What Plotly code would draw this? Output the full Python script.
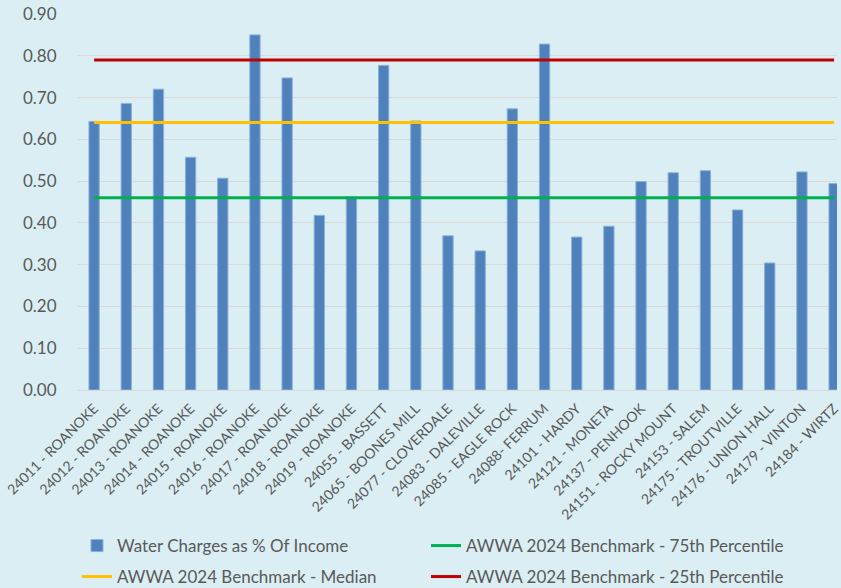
import plotly.graph_objects as go

categories = [
    "24011 - ROANOKE", "24012 - ROANOKE", "24013 - ROANOKE", "24014 - ROANOKE",
    "24015 - ROANOKE", "24016 - ROANOKE", "24017 - ROANOKE", "24018 - ROANOKE",
    "24019 - ROANOKE", "24055 - BASSETT", "24065 - BOONES MILL", "24077 - CLOVERDALE",
    "24083 - DALEVILLE", "24085 - EAGLE ROCK", "24088- FERRUM", "24101 - HARDY",
    "24121 - MONETA", "24137 - PENHOOK", "24151 - ROCKY MOUNT", "24153 - SALEM",
    "24175 - TROUTVILLE", "24176 - UNION HALL", "24179 - VINTON", "24184 - WIRTZ",
]
water_pct = [
    0.643, 0.686, 0.720, 0.557, 0.507, 0.850, 0.747, 0.418,
    0.462, 0.777, 0.644, 0.369, 0.333, 0.673, 0.828, 0.366,
    0.392, 0.499, 0.520, 0.525, 0.431, 0.304, 0.522, 0.494,
]
bench_75th = 0.46
bench_median = 0.64
bench_25th = 0.79

y_ticks = [0.0, 0.1, 0.2, 0.3, 0.4, 0.5, 0.6, 0.7, 0.8, 0.9]
y_tick_labels = ["0.00", "0.10", "0.20", "0.30", "0.40", "0.50", "0.60", "0.70", "0.80", "0.90"]

BG = "#DAEEF3"
TXT = "#595959"
FONT = "Lato"

fig = go.Figure()
fig.add_trace(go.Bar(
    x=categories, y=water_pct, name="Water Charges as % Of Income",
    marker=dict(color="#4F81BD", line=dict(color="#8DB0DA", width=1)),
    legend="legend", showlegend=True,
))
fig.add_trace(go.Scatter(
    x=categories, y=[bench_75th] * len(categories), mode="lines",
    name="AWWA 2024 Benchmark - 75th Percentile",
    line=dict(color="#00B050", width=3), legend="legend2", showlegend=True,
))
fig.add_trace(go.Scatter(
    x=categories, y=[bench_median] * len(categories), mode="lines",
    name="AWWA 2024 Benchmark - Median",
    line=dict(color="#FFC000", width=3), legend="legend3", showlegend=True,
))
fig.add_trace(go.Scatter(
    x=categories, y=[bench_25th] * len(categories), mode="lines",
    name="AWWA 2024 Benchmark - 25th Percentile",
    line=dict(color="#C00000", width=3), legend="legend4", showlegend=True,
))

legend_common = dict(
    orientation="h", xref="container", yref="container",
    xanchor="left", yanchor="middle",
    font=dict(family=FONT, size=17, color=TXT),
    bgcolor="rgba(0,0,0,0)", visible=True,
)

fig.update_layout(
    width=841, height=588,
    paper_bgcolor=BG, plot_bgcolor=BG,
    margin=dict(l=78, r=0, t=14, b=198),
    bargap=0.68,
    showlegend=True,
    font=dict(family=FONT, color=TXT),
    legend=dict(x=77 / 841, y=1 - 546 / 588, **legend_common),
    legend2=dict(x=426 / 841, y=1 - 546 / 588, **legend_common),
    legend3=dict(x=77 / 841, y=1 - 577 / 588, **legend_common),
    legend4=dict(x=426 / 841, y=1 - 577 / 588, **legend_common),
    xaxis=dict(
        range=[-0.5, 23.09], tickangle=-45,
        tickfont=dict(family=FONT, size=14, color=TXT),
        showgrid=False, showline=True, linecolor="#D9D9D9", linewidth=1,
        ticks="", zeroline=False, ticklabelstandoff=4,
    ),
    yaxis=dict(
        range=[0, 0.9], tickvals=y_ticks, ticktext=y_tick_labels,
        tickfont=dict(family=FONT, size=17, color=TXT),
        showgrid=True, gridcolor="#D9D9D9", gridwidth=1,
        zeroline=False, showline=False,
        ticks="outside", ticklen=17, tickcolor="rgba(0,0,0,0)",
    ),
)

post_js = (
    "document.body.style.margin='0';"
    "document.body.style.padding='0';"
    "document.body.style.overflow='hidden';"
    "document.documentElement.style.background='" + BG + "';"
)

fig.write_html("out.html", post_script=post_js, config={"displayModeBar": False})
